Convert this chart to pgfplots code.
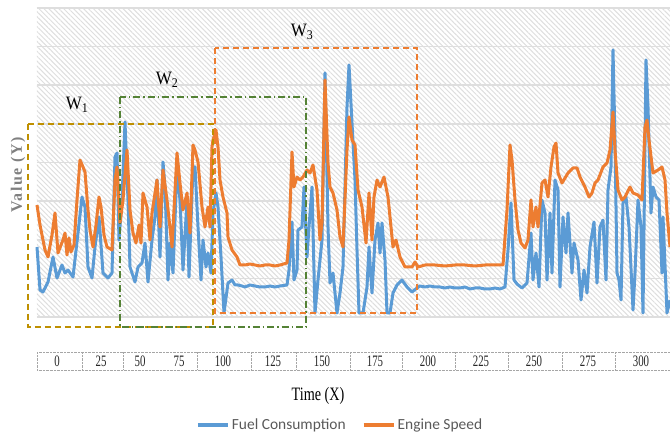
\documentclass[border=0pt]{standalone}
\usepackage{pgfplots}
\pgfplotsset{compat=1.18}
\usepackage{fontspec}
\setmainfont{Liberation Serif}
\newfontfamily\legfont{Carlito}
\usetikzlibrary{patterns.meta}
\definecolor{fuel}{HTML}{5B9BD5}
\definecolor{engine}{HTML}{ED7D31}
\definecolor{wone}{HTML}{BF9000}
\definecolor{wtwo}{HTML}{548235}
\begin{document}
\begin{tikzpicture}
\begin{axis}[
  scale only axis, width=633bp, height=309bp,
  xmin=37, xmax=670, ymin=0, ymax=309,
  clip=false,
  axis line style={draw=none},
  xtick={57,101,140,179,223,273,322,375,428,481,534,588,641},
  xticklabels={0,25,50,75,100,125,150,175,200,225,250,275,300},
  major tick length=0pt,
  xticklabel style={anchor=center, yshift=-44bp, font=\fontsize{16}{16}\selectfont, xscale=0.68, text=black!85},
  ytick={0,38.625,77.25,115.875,154.5,193.125,231.75,270.375,309},
  yticklabels={},
  ymajorgrids,
  major grid style={draw=black!13, line width=1.6bp},
  axis background/.style={pattern={Lines[angle=-45,distance=3.5bp,line width=1bp]}, pattern color=black!13},
  xlabel={Time (X)},
  xlabel style={at={(0.444,-0.2557)}, anchor=center, font=\fontsize{19}{19}\selectfont, xscale=0.75, text=black},
  ylabel={Value (Y)},
  ylabel style={at={(-0.030,0.4595)}, anchor=center, font=\fontsize{16}{16}\selectfont\bfseries\addfontfeature{LetterSpace=10}, text=black!50},
  legend style={at={(0.4787,-0.3495)}, anchor=center, draw=none, fill=none, legend columns=2,
    font=\legfont\fontsize{15.5}{15.5}\selectfont, text=black!65,
    /tikz/every even column/.append style={column sep=14bp}},
  legend image code/.code={\draw[#1, line width=4bp] (0bp,0bp) -- (30bp,0bp);},
]
\addplot[fuel, line width=3bp, line join=round] coordinates {
(37,70)(40,27)(43,25)(48,35)(53,60)(57,39)(62,52)(65,44)(68,47)(73,40)(78,84)(82,120)(85,110)(88,50)(92,39)(95,70)(99,100)(103,44)(108,39)(112,44)(115,160)(117,164)(119,77)(122,117)(125,195)(128,117)(130,50)(135,35)(138,50)(142,54)(145,74)(148,35)(152,77)(155,100)(157,137)(160,60)(163,155)(165,130)(168,37)(170,74)(173,44)(177,150)(180,117)(183,47)(187,117)(189,40)(193,150)(195,150)(198,90)(201,37)(203,77)(206,50)(208,64)(211,44)(213,104)(216,124)(218,110)(221,60)(224,4)(228,34)(232,37)(235,32)(238,32)(242,31)(245,30)(250,32)(255,31)(260,30)(265,30)(270,31)(275,30)(280,31)(287,32)(289,47)(292,95)(294,37)(297,47)(298,87)(302,90)(304,130)(307,60)(309,90)(312,130)(315,4)(318,37)(322,77)(325,244)(328,90)(330,34)(333,44)(337,4)(340,24)(343,50)(347,210)(349,252)(352,194)(355,137)(357,67)(359,4)(363,4)(367,30)(369,70)(372,24)(375,77)(378,94)(380,64)(382,94)(385,57)(387,4)(390,4)(393,24)(397,32)(402,37)(407,30)(412,25)(417,29)(420,31)(425,30)(430,31)(435,30)(440,30)(445,29)(450,30)(455,29)(460,29)(465,30)(470,28)(475,29)(480,29)(485,28)(490,28)(495,29)(500,28)(505,30)(508,67)(511,114)(514,37)(517,33)(522,29)(527,34)(531,84)(533,37)(536,64)(539,30)(542,117)(545,104)(547,37)(550,104)(552,44)(555,137)(558,127)(560,30)(563,100)(566,64)(568,104)(572,44)(574,74)(578,57)(581,17)(584,47)(587,24)(590,70)(594,95)(597,34)(600,90)(603,97)(606,37)(608,127)(611,150)(613,267)(615,177)(617,44)(619,37)(621,17)(623,114)(626,120)(629,90)(633,7)(635,44)(638,117)(641,90)(643,4)(646,257)(648,210)(651,104)(653,130)(656,120)(659,117)(662,44)(663,100)(667,4)(670,17)
};
\addlegendentry{Fuel Consumption}
\addplot[engine, line width=3bp, line join=round] coordinates {
(37,112)(40,92)(45,67)(48,60)(52,82)(55,104)(58,64)(61,72)(63,77)(65,84)(67,62)(69,79)(71,65)(74,72)(77,117)(80,157)(83,150)(85,145)(88,107)(90,87)(93,70)(96,92)(99,120)(101,110)(104,82)(107,70)(112,67)(115,137)(117,150)(120,94)(123,117)(127,167)(130,107)(133,84)(136,74)(139,92)(141,74)(143,124)(147,110)(150,77)(152,104)(157,137)(160,90)(163,147)(167,117)(172,70)(177,164)(180,134)(183,107)(187,124)(190,84)(193,172)(195,167)(198,155)(202,110)(205,90)(208,110)(210,90)(212,170)(213,177)(216,187)(218,170)(220,137)(223,120)(227,104)(228,80)(232,67)(237,60)(240,52)(245,52)(250,53)(255,52)(260,51)(265,52)(270,52)(275,51)(280,52)(287,54)(289,77)(292,165)(294,130)(297,140)(300,137)(303,140)(307,147)(310,144)(313,152)(317,127)(320,77)(322,94)(325,237)(328,154)(330,130)(333,124)(337,107)(340,80)(343,70)(347,167)(349,200)(352,177)(355,172)(358,127)(362,110)(366,74)(369,124)(372,77)(374,120)(377,137)(380,130)(384,140)(388,120)(391,90)(393,70)(396,77)(400,60)(405,50)(412,50)(415,55)(418,50)(425,52)(435,52)(445,51)(455,52)(465,52)(475,51)(485,52)(495,52)(503,52)(507,107)(510,172)(512,157)(515,117)(518,87)(521,74)(525,69)(528,77)(531,117)(533,90)(536,110)(538,90)(542,134)(545,137)(548,120)(551,150)(554,170)(556,174)(558,144)(562,134)(565,139)(568,144)(573,149)(577,149)(580,140)(585,130)(589,120)(592,124)(595,134)(598,137)(603,150)(607,154)(610,167)(613,205)(615,167)(618,127)(622,117)(625,120)(630,130)(633,124)(638,122)(642,117)(645,190)(647,197)(649,177)(653,144)(658,147)(662,150)(665,137)(667,104)(670,70)
};
\addlegendentry{Engine Speed}
% tick label box
\draw[black!35, densely dotted] (axis cs:37,-35) rectangle (axis cs:670,-53);
\pgfplotsinvokeforeach{82,123,197,251,296,350,402,455,508,562,615}{
  \draw[black!35, densely dotted] (axis cs:#1,-35) -- (axis cs:#1,-53);
}
% windows
\draw[wone, line width=1.3bp, dash pattern=on 6bp off 4bp] (axis cs:28,193) rectangle (axis cs:213,-10);
\draw[wtwo, line width=1.3bp, dash pattern=on 7bp off 3bp on 1.5bp off 3bp] (axis cs:120,220) rectangle (axis cs:306,-10);
\draw[engine, line width=1.3bp, dash pattern=on 6bp off 4bp] (axis cs:215,269) rectangle (axis cs:417,4);
\node[font=\fontsize{19}{19}\selectfont, xscale=0.9] at (axis cs:77,212) {W\textsubscript{1}};
\node[font=\fontsize{19}{19}\selectfont, xscale=0.9] at (axis cs:167,237) {W\textsubscript{2}};
\node[font=\fontsize{19}{19}\selectfont, xscale=0.9] at (axis cs:302,285) {W\textsubscript{3}};
\coordinate (bbA) at (axis cs:0,317);
\coordinate (bbB) at (axis cs:670,-118);
\end{axis}
\pgfresetboundingbox
\path[use as bounding box] (bbA) rectangle (bbB);
\end{tikzpicture}
\end{document}
